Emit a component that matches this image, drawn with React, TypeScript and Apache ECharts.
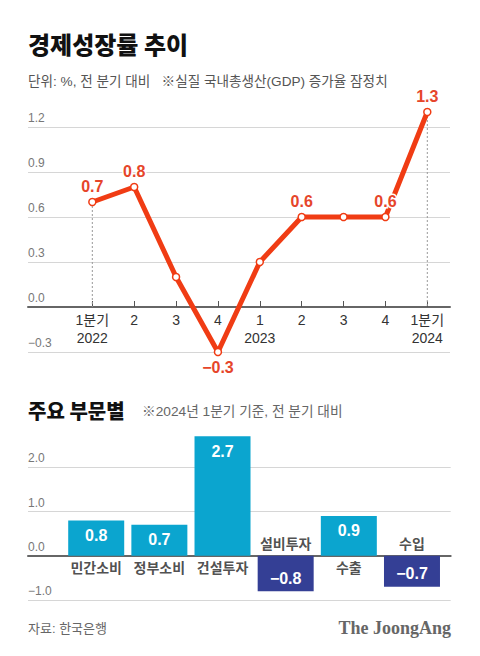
import React, { useEffect, useRef } from "react";
import * as echarts from "echarts";

const quarterLabels = ["1분기\n2022", "2", "3", "4", "1\n2023", "2", "3", "4", "1분기\n2024"];
const gdpGrowth = [0.7, 0.8, 0.2, -0.3, 0.3, 0.6, 0.6, 0.6, 1.3];
const labeledPoints = [true, true, false, true, false, true, false, true, true];
const dottedGuides = [0, 8];

const sectors = ["민간소비", "정부소비", "건설투자", "설비투자", "수출", "수입"];
const sectorValues = [0.8, 0.7, 2.7, -0.8, 0.9, -0.7];

const titleText = "경제성장률 추이";
const subtitleText = "단위: %, 전 분기 대비   ※실질 국내총생산(GDP) 증가율 잠정치";
const barTitleText = "주요 부문별";
const barNoteText = "※2024년 1분기 기준, 전 분기 대비";
const sourceText = "자료: 한국은행";
const brandText = "The JoongAng";

const SANS = '"Liberation Sans", "Noto Sans CJK KR", sans-serif';
const KR = '"Noto Sans CJK KR", "Liberation Sans", sans-serif';
const LINE = "#f03c14";
const LABEL = "#e6452a";
const POS = "#0ba5cf";
const NEG = "#343f95";

const fmt = (v: number) => (v < 0 ? "\u2212" + Math.abs(v).toFixed(1) : v.toFixed(1));

// plot geometry
const LINE_TOP = 127;
const LINE_H = 225;
const LINE_MIN = -0.3;
const LINE_MAX = 1.2;
const BAR_TOP = 467.3;
const BAR_H = 132.7;
const BAR_MIN = -1;
const BAR_MAX = 2;

export default function App() {
  const ref = useRef<HTMLDivElement>(null);
  useEffect(() => {
    if (!ref.current) return;
    const chart = echarts.init(ref.current, null, { renderer: "svg" });
    const idx = quarterLabels.map((_, i) => i);
    const yLabel = {
      inside: true,
      margin: 0,
      verticalAlign: "bottom",
      padding: [0, 0, 3, 0],
      color: "#777",
      fontSize: 12,
      fontFamily: SANS,
      formatter: (v: number) => fmt(v),
    };
    const lineZeroOffset = -(LINE_H * (0 - LINE_MIN)) / (LINE_MAX - LINE_MIN);
    const barZeroOffset = -(BAR_H * (0 - BAR_MIN)) / (BAR_MAX - BAR_MIN);
    const option: any = {
      animation: false,
      grid: [
        { left: 28, right: 30, top: LINE_TOP, height: LINE_H },
        { left: 28, right: 29.3, top: BAR_TOP, height: BAR_H },
      ],
      xAxis: [
        {
          gridIndex: 0,
          type: "value",
          position: "bottom",
          offset: lineZeroOffset,
          min: -1.536,
          max: 8.542,
          axisLine: { onZero: false, lineStyle: { color: "#666", width: 2 } },
          axisTick: { show: true, inside: true, length: 6, customValues: idx, lineStyle: { color: "#555", width: 1 } },
          axisLabel: {
            customValues: idx,
            formatter: (v: number) => quarterLabels[Math.round(v)] ?? "",
            color: "#333",
            fontSize: 14,
            lineHeight: 18,
            margin: 4,
            fontFamily: SANS,
          },
          splitLine: { show: false },
        },
        {
          gridIndex: 1,
          type: "value",
          position: "bottom",
          offset: barZeroOffset,
          min: -1.08,
          max: 5.613,
          axisLine: { onZero: false, lineStyle: { color: "#666", width: 2 } },
          axisTick: { show: false },
          axisLabel: { show: false },
          splitLine: { show: false },
        },
      ],
      yAxis: [
        {
          gridIndex: 0,
          type: "value",
          min: LINE_MIN,
          max: LINE_MAX,
          interval: 0.3,
          axisLine: { show: false, onZero: false },
          axisTick: { show: false },
          axisLabel: yLabel,
          splitLine: { lineStyle: { color: "#d6d6d6", width: 1 } },
        },
        {
          gridIndex: 1,
          type: "value",
          min: BAR_MIN,
          max: BAR_MAX,
          interval: 1,
          axisLine: { show: false, onZero: false },
          axisTick: { show: false },
          axisLabel: yLabel,
          splitLine: { lineStyle: { color: "#d6d6d6", width: 1 } },
        },
      ],
      series: [
        ...dottedGuides.map((i) => ({
          type: "line",
          xAxisIndex: 0,
          yAxisIndex: 0,
          clip: false,
          silent: true,
          symbol: "none",
          z: 3,
          data: [
            [i, gdpGrowth[i]],
            [i, 0],
          ],
          lineStyle: { color: "#999", type: [2, 2], width: 1 },
        })),
        {
          type: "line",
          xAxisIndex: 0,
          yAxisIndex: 0,
          clip: false,
          z: 5,
          data: gdpGrowth.map((v, i) => ({
            value: [i, v],
            label: { show: labeledPoints[i], position: v < 0 ? "bottom" : "top" },
          })),
          lineStyle: { color: LINE, width: 5 },
          symbol: "circle",
          symbolSize: 7,
          itemStyle: { color: "#fff", borderColor: LINE, borderWidth: 1.5 },
          label: {
            distance: 3,
            formatter: (p: any) => fmt(p.value[1]),
            color: LABEL,
            fontSize: 16,
            fontWeight: "bold",
            fontFamily: SANS,
            textBorderColor: "#fff",
            textBorderWidth: 3,
          },
        },
        {
          type: "bar",
          xAxisIndex: 1,
          yAxisIndex: 1,
          clip: false,
          barWidth: 56,
          data: sectorValues.map((v, i) => ({
            value: [i, v],
            itemStyle: { color: v >= 0 ? POS : NEG },
            label: { position: v >= 0 ? "insideTop" : "insideBottom", distance: v >= 0 ? 7 : 5 },
          })),
          label: {
            show: true,
            formatter: (p: any) => fmt(p.value[1]),
            color: "#fff",
            fontSize: 16,
            fontWeight: "bold",
            fontFamily: SANS,
          },
        },
        {
          type: "scatter",
          xAxisIndex: 1,
          yAxisIndex: 1,
          symbolSize: 1,
          silent: true,
          itemStyle: { color: "rgba(0,0,0,0)" },
          data: sectorValues.map((v, i) => ({
            value: [i, 0],
            label: { position: v >= 0 ? "bottom" : "top", distance: v >= 0 ? 4 : 5 },
          })),
          label: {
            show: true,
            formatter: (p: any) => sectors[p.dataIndex],
            color: "#222",
            fontSize: 14,
            fontWeight: "bold",
            fontFamily: KR,
          },
          z: 6,
        },
      ],
      graphic: [
        { type: "text", style: { text: titleText, x: 28, y: 43, verticalAlign: "middle", fontSize: 24, fontWeight: 900, fontFamily: KR, fill: "#111" } },
        { type: "text", style: { text: subtitleText, x: 28, y: 81, verticalAlign: "middle", fontSize: 13.6, fontFamily: SANS, fill: "#555" } },
        { type: "text", style: { text: barTitleText, x: 28, y: 410, verticalAlign: "middle", fontSize: 20, fontWeight: 900, fontFamily: KR, fill: "#111" } },
        { type: "text", style: { text: barNoteText, x: 142, y: 411, verticalAlign: "middle", fontSize: 13.7, fontFamily: SANS, fill: "#666" } },
        { type: "text", style: { text: sourceText, x: 28, y: 628, verticalAlign: "middle", fontSize: 13, fontFamily: SANS, fill: "#666" } },
        { type: "text", style: { text: brandText, x: 451, y: 628, align: "right", verticalAlign: "middle", fontSize: 18, fontWeight: "bold", fontFamily: '"Liberation Serif", serif', fill: "#666" } },
      ],
    };
    chart.setOption(option);
    return () => chart.dispose();
  }, []);
  return <div ref={ref} style={{ position: "absolute", left: 0, top: 0, width: 480, height: 656, background: "#fff" }} />;
}
